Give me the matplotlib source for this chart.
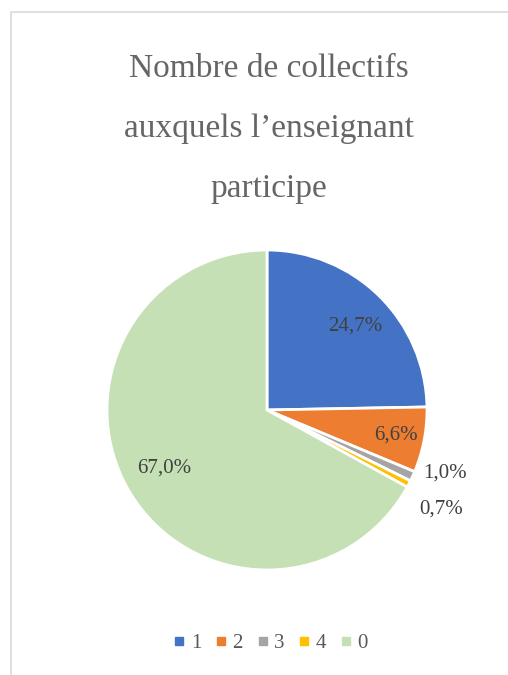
from matplotlib import pyplot as plt
from matplotlib.lines import Line2D
import numpy as np

# données du graphique
categories = ['1', '2', '3', '4', '0']
values = [24.7, 6.6, 1.0, 0.7, 67.0]
pct_labels = ['24,7%', '6,6%', '1,0%', '0,7%', '67,0%']
colors = ['#4472C4', '#ED7D31', '#A5A5A5', '#FFC000', '#C5E0B4']
label_dist = [0.76, 0.82, 1.18, 1.25, 0.74]
label_shift = [-2, 0, 5, -2, -1]   # décalage angulaire des étiquettes (degrés)

plt.rcParams['font.family'] = ['Liberation Serif', 'DejaVu Serif']

W, H = 508, 675
fig = plt.figure(figsize=(W / 100, H / 100), dpi=100)
fig.patch.set_facecolor('white')

# cadre gris : seuls les bords gauche et haut sont visibles
fig.lines.append(Line2D([11 / W, 11 / W, 1.0], [0, 1 - 12 / H, 1 - 12 / H],
                        transform=fig.transFigure, color='#D9D9D9', lw=1.2))

fig.text(269 / W, 1 - 129 / H,
         'Nombre de collectifs\nauxquels l\u2019enseignant\nparticipe',
         ha='center', va='center', fontsize=24, color='#666666',
         linespacing=2.25)

cx, cy, R = 267, 410, 160
ax = fig.add_axes([(cx - R) / W, (H - cy - R) / H, 2 * R / W, 2 * R / H])
wedges, _ = ax.pie(values, colors=colors, startangle=90, counterclock=False,
                   wedgeprops=dict(edgecolor='white', linewidth=2))
ax.set_xlim(-1, 1)
ax.set_ylim(-1, 1)
ax.axis('off')

for w, lab, d, s in zip(wedges, pct_labels, label_dist, label_shift):
    ang = np.deg2rad((w.theta1 + w.theta2) / 2 + s)
    ax.text(d * np.cos(ang), d * np.sin(ang), lab, ha='center', va='center',
            fontsize=15, color='#404040', clip_on=False)

handles = [Line2D([], [], ls='none', marker='s', markersize=6,
                  markerfacecolor=c, markeredgecolor=c) for c in colors]
fig.legend(handles, categories, loc='center', bbox_to_anchor=(271 / W, 1 - 643 / H),
           ncol=5, frameon=False, fontsize=15, labelcolor='#595959',
           handlelength=0.5, handletextpad=0.3, columnspacing=0.7)

fig.savefig('out.png', dpi=100)
